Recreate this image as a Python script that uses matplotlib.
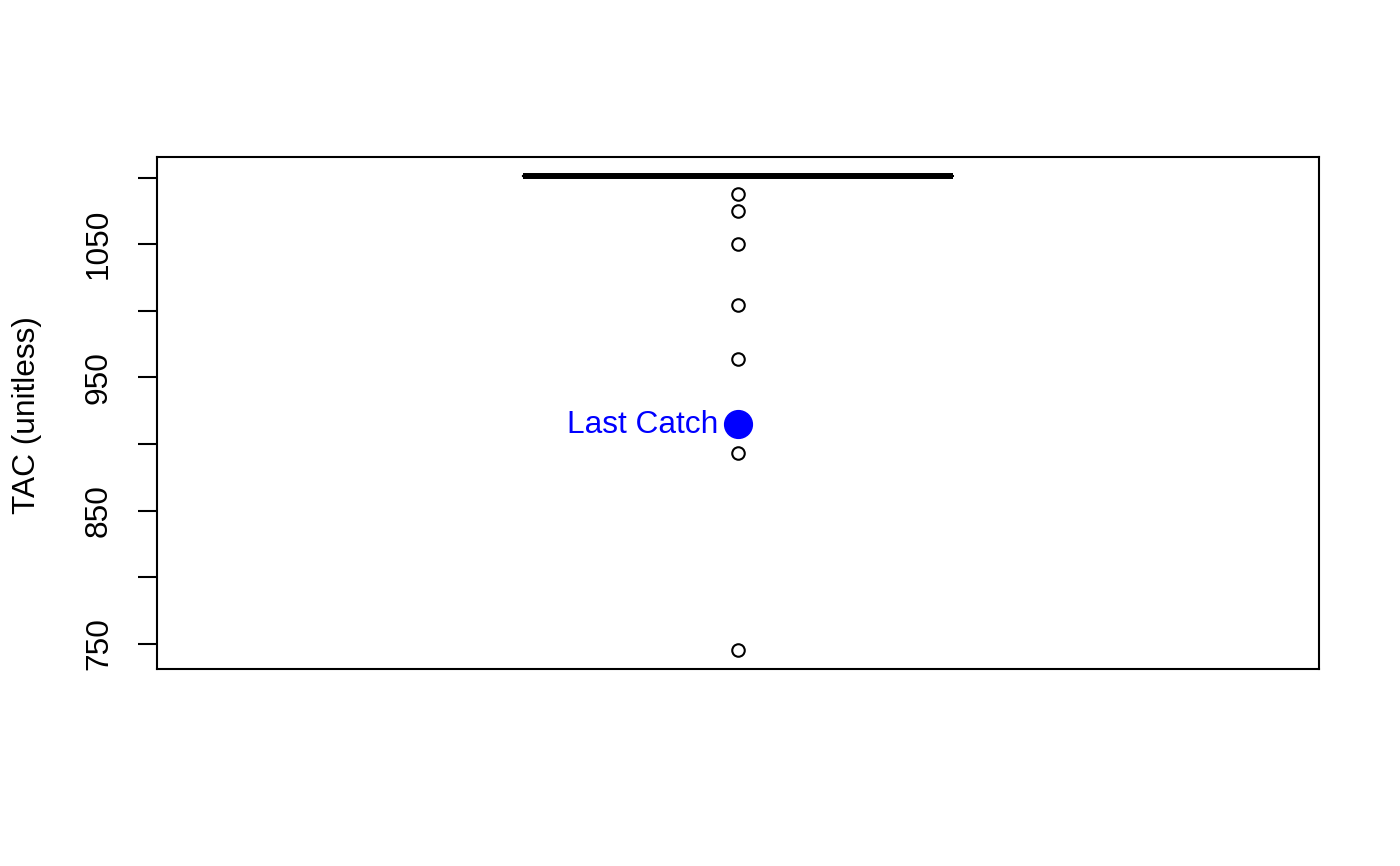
import matplotlib
matplotlib.use('Agg')
import matplotlib.pyplot as plt

plt.rcParams['font.family'] = ['Liberation Sans', 'DejaVu Sans']

# box summary (all quartiles collapse onto the median)
median_tac = 1101
outliers = [1088, 1075, 1050, 1004.5, 964, 893, 745.5]
last_catch = 915
y_ticks = [750, 800, 850, 900, 950, 1000, 1050, 1100]
y_ticklabels = ['750', '', '850', '', '950', '', '1050', '']

fig = plt.figure(figsize=(14, 8.66), dpi=100)
ax = fig.add_axes([157/1400, 1 - 669.3/866, 1162/1400, 512/866])

stats = [dict(med=median_tac, q1=median_tac, q3=median_tac,
              whislo=median_tac, whishi=median_tac, fliers=outliers)]
ax.bxp(stats, positions=[1], widths=0.4, showcaps=False,
       boxprops=dict(color='black', linewidth=1.5),
       whiskerprops=dict(color='black', linewidth=1.5),
       medianprops=dict(color='black', linewidth=4.3, solid_capstyle='butt'),
       flierprops=dict(marker='o', markerfacecolor='none', markeredgecolor='black',
                       markersize=9, markeredgewidth=1.5))

ax.plot([1], [last_catch], 'o', color='#0000FF', markersize=20)
ax.annotate('Last Catch', (1, last_catch), xytext=(-14, -1), textcoords='offset points',
            ha='right', va='center', color='#0000FF', fontsize=22.8)

ax.set_xlim(0.46, 1.54)
ax.set_ylim(731.0, 1115.2)
ax.set_xticks([])
ax.set_yticks(y_ticks)
ax.set_yticklabels(y_ticklabels, rotation=90, va='center', fontsize=22.8)
ax.tick_params(axis='y', length=14, width=1.5, pad=17)
for s in ax.spines.values():
    s.set_linewidth(1.5)

fig.text(27/1400, 1 - 415/866, 'TAC (unitless)', rotation=90, ha='center', va='center', fontsize=22.8)

fig.savefig('out.png', dpi=100)
